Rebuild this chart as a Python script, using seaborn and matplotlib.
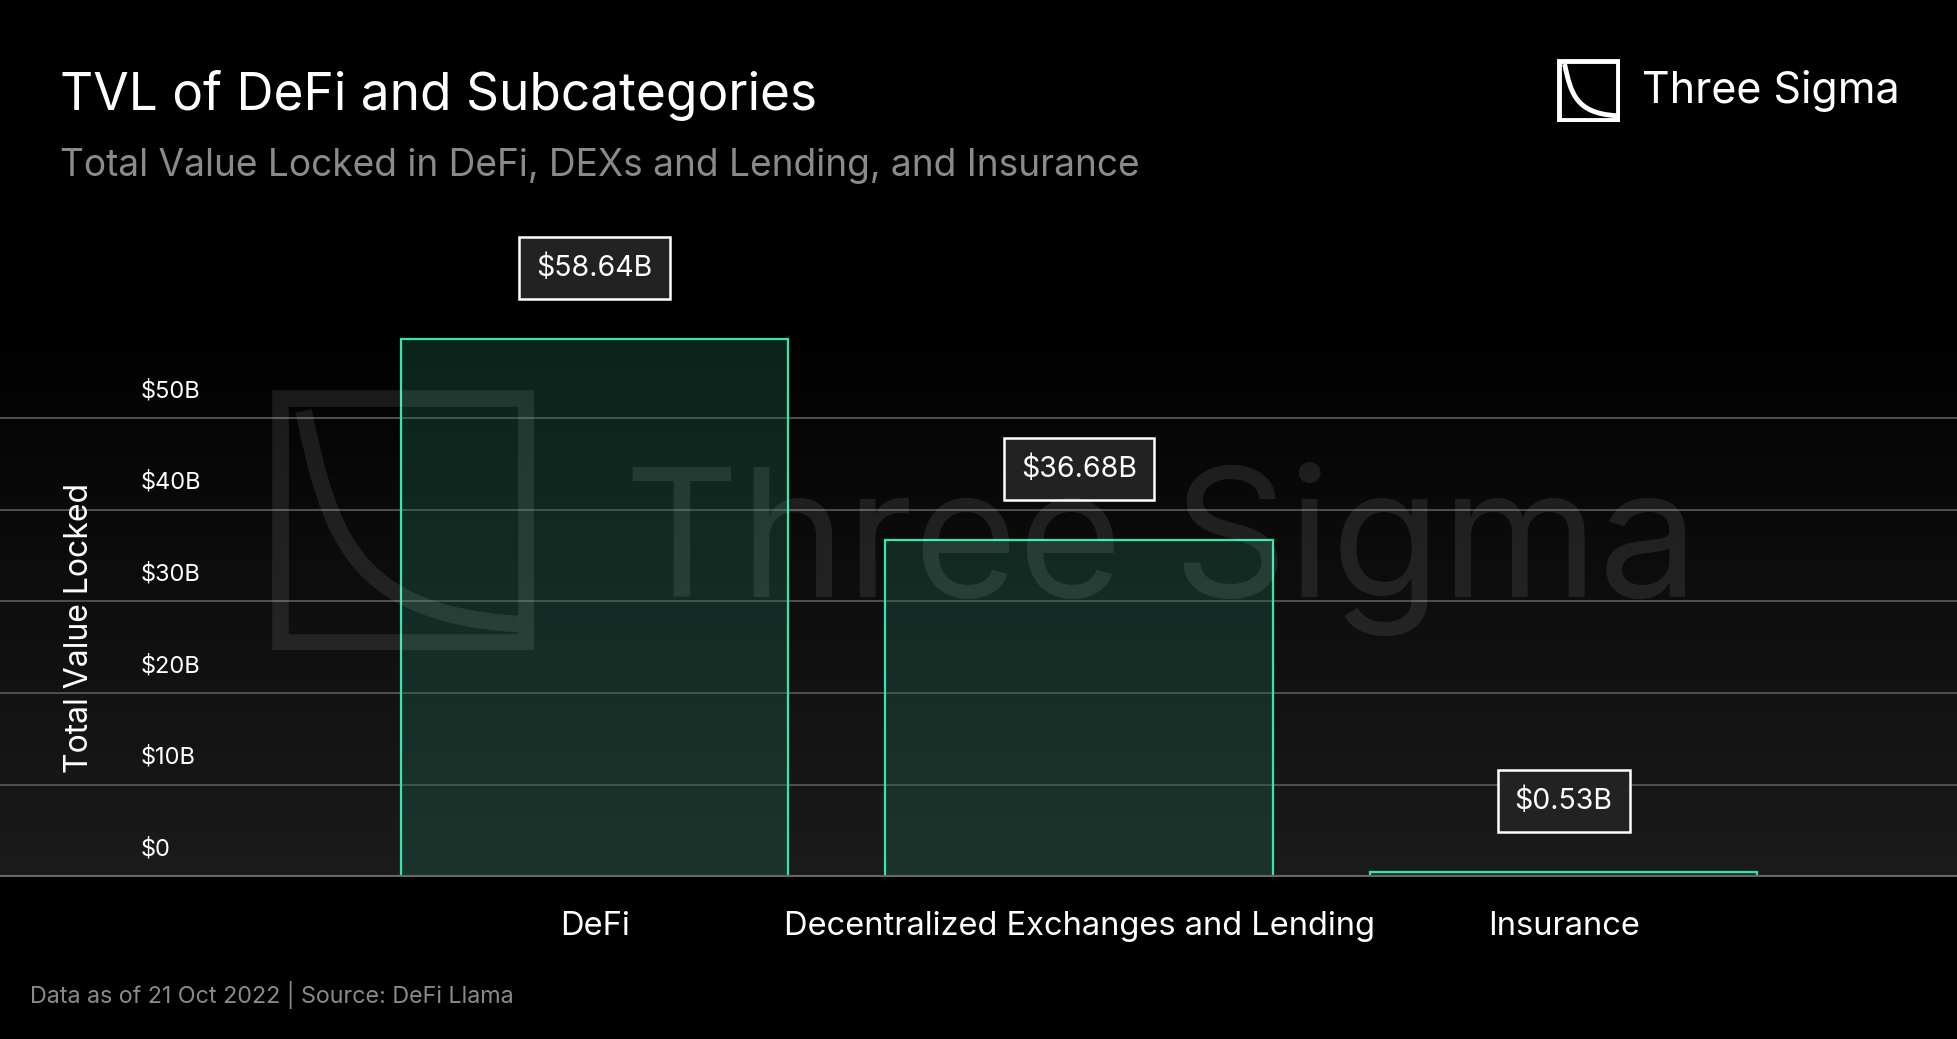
import numpy as np
import pandas as pd
import matplotlib
matplotlib.use("Agg")
import matplotlib.pyplot as plt
import matplotlib.transforms as mtransforms
from matplotlib.path import Path
from matplotlib.patches import PathPatch, Rectangle
import seaborn as sns

# chart data
categories = ["DeFi", "Decentralized Exchanges and Lending", "Insurance"]
tvl_billions = [58.64, 36.68, 0.53]
value_labels = ["$58.64B", "$36.68B", "$0.53B"]
y_ticks = [0, 10, 20, 30, 40, 50]
y_tick_labels = ["$0", "$10B", "$20B", "$30B", "$40B", "$50B"]

title = "TVL of DeFi and Subcategories"
subtitle = "Total Value Locked in DeFi, DEXs and Lending, and Insurance"
footer = "Data as of 21 Oct 2022 | Source: DeFi Llama"

W, H = 1958, 1039
BAR_EDGE = "#33e6b0"


def draw_logo(ax, color, lw, alpha=1.0):
    ax.set_xlim(0, 1)
    ax.set_ylim(0, 1)
    ax.axis("off")
    ax.add_patch(Rectangle((0.03, 0.03), 0.94, 0.94, fill=False, ec=color,
                           lw=lw, alpha=alpha))
    verts = [(0.12, 0.92), (0.22, 0.45), (0.3, 0.14), (0.94, 0.1)]
    codes = [Path.MOVETO, Path.CURVE4, Path.CURVE4, Path.CURVE4]
    ax.add_patch(PathPatch(Path(verts, codes), fill=False, ec=color, lw=lw,
                           alpha=alpha))


def main():
    sns.set_theme(style="dark")
    plt.rcParams["font.family"] = ["Inter", "DejaVu Sans"]

    fig = plt.figure(figsize=(W / 100, H / 100), dpi=100, facecolor="black")

    bottom_px, top_px = 876.5, 200
    ax = fig.add_axes([0, 1 - bottom_px / H, 1, (bottom_px - top_px) / H])
    px_per_b = 9.17
    ymax = (bottom_px - top_px) / px_per_b
    xlo, xhi = -1.227, 2.814

    df = pd.DataFrame({"category": categories, "tvl": tvl_billions})
    sns.barplot(data=df, x="category", y="tvl", ax=ax, color=BAR_EDGE,
                width=0.8, zorder=3)
    for p in ax.patches:
        p.set_facecolor((0.11, 0.40, 0.31, 0.34))
        p.set_edgecolor(BAR_EDGE)
        p.set_linewidth(1.6)

    ax.set_xlim(xlo, xhi)
    ax.set_ylim(0, ymax)

    # background gradient: black at top, dark grey at the baseline
    ys = np.linspace(ymax, 0, 300)
    lvl = np.clip((62 - ys) / 62, 0, 1) * (27 / 255)
    grad = np.repeat(lvl[:, None], 3, axis=1)[:, None, :]
    ax.imshow(grad, extent=(xlo, xhi, 0, ymax), aspect="auto", zorder=0,
              interpolation="bilinear")
    ax.set_facecolor("black")

    ax.set_yticks(y_ticks)
    ax.set_yticklabels(y_tick_labels, ha="left", va="bottom", color="white",
                       fontsize=17)
    ax.tick_params(axis="y", length=0, pad=-101.5)
    shift = mtransforms.ScaledTranslation(0, 0.16, fig.dpi_scale_trans)
    for lab in ax.get_yticklabels():
        lab.set_transform(lab.get_transform() + shift)

    ax.yaxis.grid(True, color="#555555", lw=1.3, zorder=1)
    ax.xaxis.grid(False)
    ax.axhline(0, color="#666666", lw=3, zorder=4)
    for s in ax.spines.values():
        s.set_visible(False)

    ax.set_xlabel("")
    ax.set_ylabel("")
    ax.tick_params(axis="x", length=0, pad=25, labelsize=23.5, labelcolor="white")

    ax.text(80 / W, (bottom_px - 628) / (bottom_px - top_px),
            "Total Value Locked", rotation=90, ha="center", va="center",
            color="white", fontsize=23, transform=ax.transAxes)

    for i, (v, lab) in enumerate(zip(tvl_billions, value_labels)):
        ax.annotate(lab, xy=(i, v), xytext=(0, 51), textcoords="offset points",
                    ha="center", va="center", color="white", fontsize=20.5,
                    zorder=6,
                    bbox=dict(boxstyle="square,pad=0.6", fc="#222222",
                              ec="white", lw=1.8))

    # titles and footer
    fig.text(60 / W, 1 - 110 / H, title, color="white", fontsize=37,
             va="baseline", ha="left")
    fig.text(60 / W, 1 - 176 / H, subtitle, color="#8a8a8a", fontsize=26.7,
             va="baseline", ha="left")
    fig.text(30 / W, 1 - 995 / H, footer, color="#8a8a8a", fontsize=16.8,
             va="center", ha="left")

    # brand logo top right
    lax = fig.add_axes([1557 / W, 1 - 122 / H, 63 / W, 63 / H])
    draw_logo(lax, "white", 3.5)
    fig.text(1642 / W, 1 - 91 / H, "Three Sigma", color="white", fontsize=31,
             va="center", ha="left")

    # watermark
    wax = fig.add_axes([272 / W, 1 - 650 / H, 262 / W, 260 / H], zorder=5)
    draw_logo(wax, "white", 12, alpha=0.09)
    wt = fig.text(624 / W, 1 - 597 / H, "Three Sigma", color="white",
                  alpha=0.09, fontsize=129, va="baseline", ha="left")
    wt.set_zorder(5)

    fig.savefig("out.png", dpi=100, facecolor="black")
    plt.close(fig)


if __name__ == "__main__":
    main()
